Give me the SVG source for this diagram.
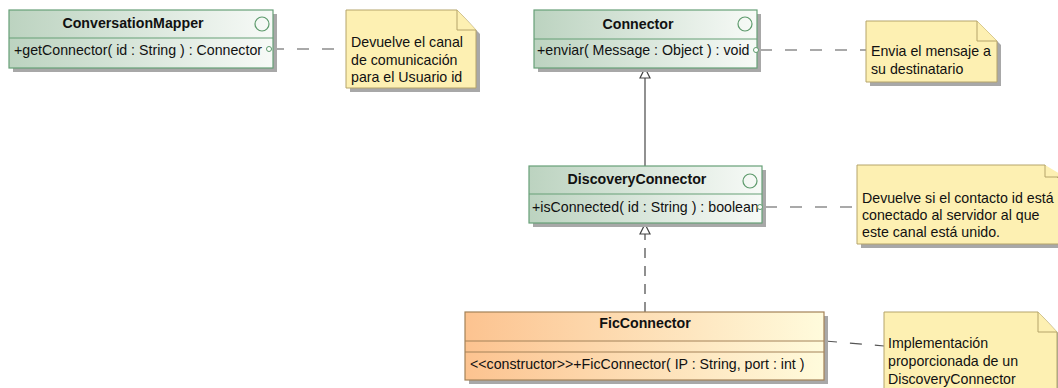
<svg xmlns="http://www.w3.org/2000/svg" width="1058" height="388" viewBox="0 0 1058 388">
  <defs>
    <linearGradient id="gIface" x1="0" y1="0" x2="1" y2="0">
      <stop offset="0" stop-color="#bcd3c0"/>
      <stop offset="1" stop-color="#f7faf7"/>
    </linearGradient>
    <linearGradient id="gClass" x1="0" y1="0" x2="1" y2="0">
      <stop offset="0" stop-color="#fcc390"/>
      <stop offset="1" stop-color="#fffbdc"/>
    </linearGradient>
  </defs>
  <style>
    text { font-family: "Liberation Sans", Arial, sans-serif; font-size: 14.2px; fill: #111; }
    .title { font-weight: bold; text-anchor: middle; }
    .shadow { fill: #a8a8a8; }
    .iface { fill: url(#gIface); stroke: #67a077; stroke-width: 1.2; }
    .isep { stroke: #67a077; stroke-width: 1.2; }
    .icon { fill: none; stroke: #5d9a6c; stroke-width: 1.2; }
    .cls { fill: url(#gClass); stroke: #a38258; stroke-width: 1.2; }
    .csep { stroke: #a38258; stroke-width: 1.2; }
    .note { fill: #fdf0b2; stroke: #b5a46a; stroke-width: 1; }
    .anchor { fill: none; stroke: #555; stroke-width: 1.2; stroke-dasharray: 12 13; }
    .solid { fill: none; stroke: #555; stroke-width: 1.3; }
    .real { fill: none; stroke: #555; stroke-width: 1.3; stroke-dasharray: 10 8; }
    .head { fill: #fff; stroke: #444; stroke-width: 1.2; }
    .dot { fill: #fff; stroke: #5d9a6c; stroke-width: 1; }
  </style>

  <!-- connectors -->
  <g id="connectors">
    <line class="anchor" x1="272" y1="49" x2="346" y2="49"/>
    <line class="anchor" x1="760" y1="50" x2="866" y2="50"/>
    <line class="anchor" x1="765" y1="207" x2="857" y2="207"/>
    <line class="anchor" x1="825" y1="341" x2="884" y2="346"/>
    <!-- DiscoveryConnector generalizes Connector -->
    <line class="solid" x1="645" y1="166" x2="645" y2="78"/>
    <polygon class="head" points="645,68 640,78 650,78"/>
    <!-- FicConnector realizes DiscoveryConnector -->
    <line class="real" x1="645" y1="312" x2="645" y2="234"/>
    <polygon class="head" points="645,224 640,234 650,234"/>
  </g>

  <!-- ConversationMapper -->
  <g id="ConversationMapper">
    <rect class="shadow" x="13" y="14" width="264" height="58"/>
    <rect class="iface" x="9" y="10" width="264" height="58"/>
    <line class="isep" x1="9" y1="38" x2="273" y2="38"/>
    <circle class="icon" cx="262" cy="24" r="7"/>
    <text class="title" x="133" y="28">ConversationMapper</text>
    <text x="14" y="55">+getConnector( id : String ) : Connector</text>
    <circle class="dot" cx="269" cy="49" r="2.5"/>
  </g>

  <!-- Connector -->
  <g id="Connector">
    <rect class="shadow" x="538" y="14" width="223" height="58"/>
    <rect class="iface" x="534" y="10" width="223" height="58"/>
    <line class="isep" x1="534" y1="39" x2="757" y2="39"/>
    <circle class="icon" cx="745" cy="24" r="7"/>
    <text class="title" x="638" y="29">Connector</text>
    <text x="537" y="55">+enviar( Message : Object ) : void</text>
    <circle class="dot" cx="756" cy="50" r="2.5"/>
  </g>

  <!-- DiscoveryConnector -->
  <g id="DiscoveryConnector">
    <rect class="shadow" x="533" y="170" width="233" height="57"/>
    <rect class="iface" x="529" y="166" width="233" height="57"/>
    <line class="isep" x1="529" y1="194" x2="762" y2="194"/>
    <circle class="icon" cx="750" cy="181" r="7"/>
    <text class="title" x="637" y="184">DiscoveryConnector</text>
    <text x="532" y="212">+isConnected( id : String ) : boolean</text>
    <circle class="dot" cx="760" cy="207" r="2.5"/>
  </g>

  <!-- FicConnector -->
  <g id="FicConnector">
    <rect class="shadow" x="469" y="316" width="359" height="68"/>
    <rect class="cls" x="465" y="312" width="359" height="68"/>
    <line class="csep" x1="465" y1="341" x2="824" y2="341"/>
    <line class="csep" x1="465" y1="352" x2="824" y2="352"/>
    <text class="title" x="645" y="328">FicConnector</text>
    <text x="470" y="369">&lt;&lt;constructor&gt;&gt;+FicConnector( IP : String, port : int )</text>
  </g>

  <!-- notes -->
  <g id="note1">
    <polygon class="shadow" points="350,14 461,14 480,34 480,92 350,92"/>
    <polygon class="note" points="346,10 457,10 476,30 476,88 346,88"/>
    <polyline class="note" points="457,10 457,30 476,30"/>
    <text x="351" y="47">Devuelve el canal</text>
    <text x="351" y="65">de comunicación</text>
    <text x="351" y="82">para el Usuario id</text>
  </g>

  <g id="note2">
    <polygon class="shadow" points="870,25 981,25 1001,45 1001,86 870,86"/>
    <polygon class="note" points="866,21 977,21 997,41 997,82 866,82"/>
    <polyline class="note" points="977,21 977,41 997,41"/>
    <text x="871" y="56">Envia el mensaje a</text>
    <text x="871" y="74">su destinatario</text>
  </g>

  <g id="note3">
    <polygon class="shadow" points="861,169 1049,169 1069,189 1069,248 861,248"/>
    <polygon class="note" points="857,165 1045,165 1065,185 1065,244 857,244"/>
    <polyline class="note" points="1045,165 1045,177 1065,177"/>
    <text x="862" y="203">Devuelve si el contacto id está</text>
    <text x="862" y="220">conectado al servidor al que</text>
    <text x="862" y="237">este canal está unido.</text>
  </g>

  <g id="note4">
    <polygon class="shadow" points="888,316 1042,316 1061,336 1061,400 888,400"/>
    <polygon class="note" points="884,312 1038,312 1057,332 1057,396 884,396"/>
    <polyline class="note" points="1038,312 1038,332 1057,332"/>
    <text x="888" y="348">Implementación</text>
    <text x="888" y="366">proporcionada de un</text>
    <text x="888" y="384">DiscoveryConnector</text>
  </g>
</svg>
